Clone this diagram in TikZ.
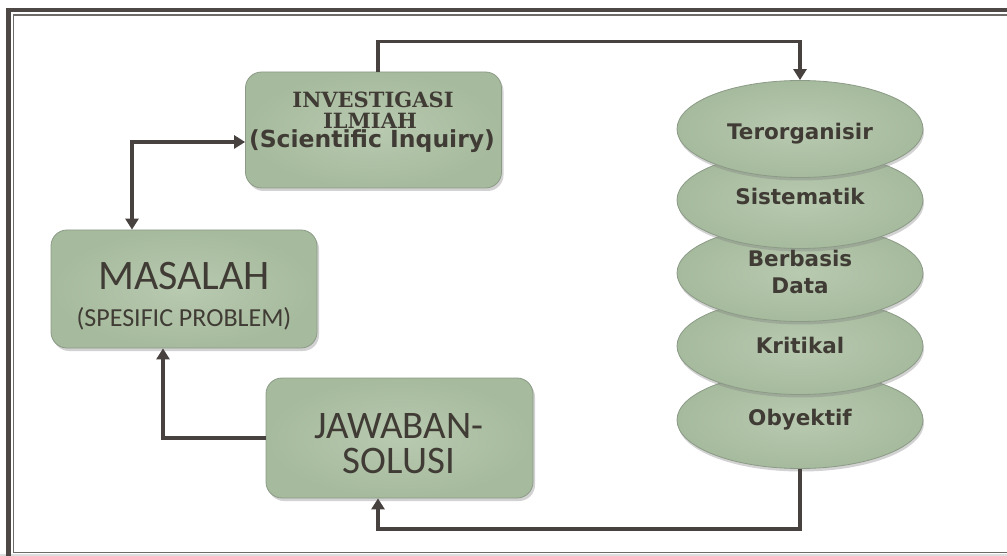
\documentclass[tikz,border=0pt]{standalone}
\usepackage{fontspec}
\setmainfont{Carlito}
\newfontfamily\headserif{DejaVu Serif}
\newfontfamily\headsans{DejaVu Sans}
\usetikzlibrary{arrows.meta,shadows,shapes.geometric}
\definecolor{framedark}{HTML}{4D4746}
\definecolor{framegray}{HTML}{6E6A68}
\definecolor{sage}{HTML}{A6BA9D}
\definecolor{sagelight}{HTML}{B8CAB0}
\definecolor{sageedge}{HTML}{8C9B87}
\definecolor{ink}{HTML}{403C35}
\definecolor{wire}{HTML}{474240}
\tikzset{
  panel/.style={draw=sageedge, line width=0.8pt, rounded corners=16pt,
    inner color=sagelight, outer color=sage,
    drop shadow={opacity=0.35, shadow xshift=2pt, shadow yshift=-3pt}},
  disc/.style={ellipse, draw=sageedge, line width=0.8pt,
    minimum width=246pt, minimum height=97pt,
    inner color=sagelight, outer color=sage,
    drop shadow={opacity=0.35, shadow xshift=1pt, shadow yshift=-3pt}},
  wirepath/.style={draw=wire, line width=3.8pt,
    arrows={-Triangle[length=11pt,width=13pt]}},
  lbl/.style={anchor=base, inner sep=0pt, text=ink},
  disclbl/.style={lbl, font=\headsans\bfseries\fontsize{21.5}{22}\selectfont},
}
\begin{document}
\begin{tikzpicture}[x=1pt,y=-1pt]
\useasboundingbox (0,0) rectangle (1007,556);
\clip (0,0) rectangle (1007,556);

% double frame, open to the right
\fill[white] (0,0) rectangle (1007,556);
\fill[black!13] (0,554) rectangle (1007,556);
\draw[framedark, line width=4.6pt] (1030,10.2) -- (8.6,10.2) -- (8.6,570);
\draw[framegray, line width=1.6pt] (1030,15.2) -- (13.4,15.2) -- (13.4,552.6) -- (1030,552.6);

% stacked ellipses, bottom one first
\node[disc] (e5) at (800,420) {};
\node[disc] (e4) at (800,346) {};
\node[disc] (e3) at (800,273) {};
\node[disc] (e2) at (800,200) {};
\node[disc] (e1) at (800,129) {};
\node[disclbl] (t1) at (800,140) {Terorganisir};
\node[disclbl] (t2) at (800,205) {Sistematik};
\node[disclbl] (t3a) at (800,267) {Berbasis};
\node[disclbl] (t3b) at (800,293) {Data};
\node[disclbl] (t4) at (800,353) {Kritikal};
\node[disclbl] (t5) at (800,425) {Obyektif};

% rounded boxes
\node[panel, minimum width=256pt, minimum height=116pt] (inv) at (373.5,130) {};
\node[panel, minimum width=266pt, minimum height=118pt] (mas) at (184,289) {};
\node[panel, minimum width=267pt, minimum height=120pt] (jaw) at (399.5,438) {};

\node[lbl, font=\headserif\bfseries\fontsize{21}{22}\selectfont] (inv1) at (373,108) {INVESTIGASI};
\node[lbl, font=\headserif\bfseries\fontsize{21}{22}\selectfont] (inv2) at (370,128.5) {ILMIAH};
\node[lbl, font=\headsans\bfseries\fontsize{23.5}{24}\selectfont] (inv3) at (372,148) {(Scientific Inquiry)};

\node[lbl, font=\fontsize{42}{44}\selectfont] (mas1) at (184,290) {MASALAH};
\node[lbl, font=\fontsize{26}{28}\selectfont] (mas2) at (184,326) {(SPESIFIC PROBLEM)};

\node[lbl, font=\fontsize{39}{41}\selectfont] (jaw1) at (399,438) {JAWABAN-};
\node[lbl, font=\fontsize{39}{41}\selectfont] (jaw2) at (399,473) {SOLUSI};

% connectors
\draw[wirepath] ([xshift=4.5pt]inv.north) -- ++(0,-30) -| (e1.north);
\draw[wirepath] (e5.south) -- ++(0,60) -| ([xshift=-21.5pt]jaw.south);
\draw[wirepath] (jaw.west) -| ([xshift=-21pt]mas.south);
\draw[wirepath, arrows={Triangle[length=11pt,width=13pt]-Triangle[length=11pt,width=13pt]}]
  ([xshift=-52pt]mas.north) |- ([yshift=-12pt]inv.west);
\end{tikzpicture}
\end{document}
